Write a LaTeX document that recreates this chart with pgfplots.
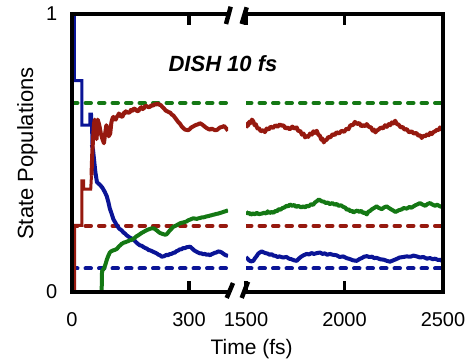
\documentclass[border=0pt]{standalone}
\usepackage{fontspec}
\setmainfont{Liberation Sans}
\usepackage{pgfplots}
\pgfplotsset{compat=1.18}
\definecolor{cblue}{RGB}{10,20,150}
\definecolor{cred}{RGB}{150,25,15}
\definecolor{cgreen}{RGB}{20,120,20}
\pgfplotsset{
  panel/.style={
    scale only axis, height=278pt, ymin=0, ymax=1,
    axis on top,
    axis line style={line width=4.8pt, line cap=rect},
    tick align=inside, major tick length=11pt,
    major tick style={line width=3.8pt, black},
    tick label style={font=\fontsize{20}{24}\selectfont, inner sep=0pt},
    /pgf/number format/assume math mode=true,
    xticklabel style={anchor=north, yshift=-20pt},
    yticklabel style={anchor=east, xshift=-14.5pt},
  },
  pop/.style={line width=4pt, line join=round},
  step/.style={line width=3pt, line join=miter},
  refl/.style={line width=4pt, dash pattern=on 5.5pt off 8pt, line cap=round},
}
\begin{document}
\begin{tikzpicture}
\path[use as bounding box] (0,0) rectangle (472pt,364pt);
% ---------------- left panel ----------------
\begin{axis}[panel, at={(72pt,72pt)}, anchor=south west, width=156pt,
  xmin=0, xmax=400, axis x line*=box, axis y line*=left,
  xtick={0,300}, xticklabels={0,300}, ytick={0,1}, yticklabels={0,1}]
\addplot[cgreen, refl] coordinates {(0,0.68) (400,0.68)};
\addplot[cred, refl] coordinates {(0,0.238) (400,0.238)};
\addplot[cblue, refl] coordinates {(0,0.085) (400,0.085)};
\addplot[cblue, step] coordinates {
(0,1.0) (6,1.0) (6,0.76) (25,0.76) (25,0.60) (46,0.60) (46,0.64) (50,0.64) (51,0.53)};
\addplot[cblue, pop] coordinates {
(51,0.53) (54,0.51) (57,0.47) (60,0.43) (64,0.395) (68,0.39) (72,0.385) (78,0.375) (84,0.36)
(89,0.345) (93,0.325) (97,0.30) (102,0.28) (106,0.262) (111,0.25) (115,0.24) (121,0.228)
(127,0.222) (132,0.214) (136,0.21) (140,0.204) (144,0.2) (148,0.196) (152,0.193) (157,0.19)
(161,0.184) (165,0.178) (170,0.172) (174,0.168) (179,0.166) (183,0.162) (188,0.158)
(192,0.156) (196,0.151) (200,0.15) (205,0.147) (209,0.144) (214,0.141) (218,0.138)
(222,0.134) (226,0.132) (230,0.127) (234,0.128) (238,0.13) (242,0.134) (246,0.132)
(250,0.136) (255,0.137) (260,0.141) (264,0.142) (268,0.147) (272,0.149) (276,0.153)
(281,0.154) (285,0.158) (290,0.158) (294,0.161) (299,0.162) (303,0.163) (307,0.158)
(310,0.154) (314,0.149) (318,0.146) (323,0.142) (328,0.139) (332,0.139) (336,0.136)
(341,0.137) (345,0.134) (350,0.135) (354,0.132) (358,0.136) (362,0.138) (366,0.141)
(370,0.142) (375,0.146) (379,0.145) (383,0.143) (386,0.14) (390,0.136) (393,0.133)
(397,0.131) (400,0.13)};
\addplot[cgreen, pop] coordinates {
(76,0) (77,0.075) (82,0.085) (86,0.10) (89,0.115) (93,0.13) (97,0.142) (100,0.146) (103,0.148)
(106,0.15) (109,0.151) (112,0.153) (115,0.155) (118,0.16) (121,0.165) (124,0.168) (127,0.173)
(130,0.175) (133,0.178) (137,0.179) (140,0.181) (144,0.183) (148,0.186) (152,0.187)
(157,0.191) (161,0.195) (165,0.2) (170,0.204) (174,0.208) (178,0.212) (182,0.215)
(187,0.219) (191,0.222) (196,0.225) (200,0.227) (204,0.229) (209,0.229) (213,0.226)
(217,0.222) (222,0.216) (226,0.212) (230,0.21) (234,0.208) (239,0.206) (243,0.208)
(247,0.215) (251,0.222) (256,0.229) (260,0.235) (264,0.237) (268,0.24) (273,0.244)
(277,0.247) (281,0.249) (285,0.25) (290,0.252) (294,0.254) (298,0.258) (302,0.26)
(307,0.263) (311,0.265) (316,0.264) (320,0.263) (324,0.265) (328,0.266) (332,0.268)
(336,0.268) (341,0.27) (345,0.272) (350,0.273) (354,0.275) (358,0.276) (362,0.278)
(366,0.279) (370,0.281) (375,0.282) (379,0.284) (384,0.286) (390,0.289) (395,0.291)
(400,0.294)};
\addplot[cred, step] coordinates {
(0,0) (7,0) (7,0.24) (25,0.24) (25,0.40) (30,0.40) (30,0.37) (48,0.37) (50,0.42)};
\addplot[cred, pop] coordinates {
(50,0.42) (52,0.50) (54,0.55) (56,0.60) (58,0.62) (61,0.58) (63,0.55) (66,0.62) (70,0.60)
(74,0.57) (78,0.55) (82,0.535) (85,0.57) (88,0.60) (91,0.59) (94,0.56) (98,0.57)
(101,0.61) (104,0.625) (106,0.63) (109,0.622) (112,0.62) (115,0.63) (118,0.635)
(120,0.642) (123,0.638) (126,0.63) (130,0.632) (133,0.645) (135,0.642) (138,0.65)
(140,0.648) (144,0.645) (148,0.646) (151,0.655) (155,0.652) (158,0.66) (162,0.658)
(166,0.652) (170,0.65) (174,0.66) (178,0.665) (181,0.658) (185,0.662) (188,0.67)
(192,0.668) (196,0.665) (200,0.666) (204,0.672) (208,0.67) (212,0.676) (215,0.674)
(219,0.678) (222,0.675) (225,0.673) (228,0.672) (232,0.665) (236,0.66) (240,0.653)
(244,0.65) (248,0.647) (252,0.645) (256,0.638) (260,0.635) (264,0.627) (268,0.62)
(272,0.612) (277,0.605) (281,0.596) (285,0.59) (290,0.584) (294,0.583) (298,0.582)
(302,0.586) (306,0.592) (310,0.595) (314,0.598) (318,0.601) (323,0.603) (328,0.607)
(332,0.604) (336,0.6) (341,0.594) (345,0.59) (350,0.586) (354,0.584) (358,0.588)
(362,0.585) (367,0.582) (372,0.583) (376,0.588) (380,0.592) (385,0.594) (390,0.597)
(393,0.592) (396,0.588) (400,0.58)};
\end{axis}
% ---------------- right panel ----------------
\begin{axis}[panel, at={(246pt,72pt)}, anchor=south west, width=197pt,
  xmin=1500, xmax=2500, axis x line*=box, axis y line*=right,
  xtick={1500,2000,2500}, xticklabels={1500,2000,2500}, ytick=\empty]
\addplot[cgreen, refl] coordinates {(1500,0.68) (2500,0.68)};
\addplot[cred, refl] coordinates {(1500,0.238) (2500,0.238)};
\addplot[cblue, refl] coordinates {(1500,0.085) (2500,0.085)};
\addplot[cblue, pop] coordinates {
(1500,0.125) (1508,0.12) (1515,0.114) (1525,0.11) (1537,0.112) (1546,0.122) (1555,0.13)
(1562,0.138) (1570,0.142) (1580,0.146) (1588,0.143) (1598,0.14) (1610,0.138) (1620,0.134)
(1630,0.136) (1639,0.131) (1650,0.13) (1660,0.126) (1670,0.128) (1688,0.124) (1706,0.126)
(1718,0.12) (1730,0.118) (1744,0.114) (1757,0.112) (1768,0.12) (1780,0.127) (1792,0.132)
(1808,0.137) (1820,0.135) (1832,0.14) (1845,0.137) (1860,0.14) (1876,0.142) (1888,0.137)
(1900,0.139) (1913,0.134) (1926,0.137) (1940,0.134) (1960,0.132) (1975,0.126) (1994,0.128)
(2010,0.122) (2025,0.119) (2043,0.114) (2062,0.112) (2075,0.118) (2090,0.123) (2100,0.127)
(2113,0.129) (2125,0.126) (2140,0.127) (2150,0.122) (2163,0.123) (2180,0.118) (2200,0.116)
(2215,0.112) (2231,0.109) (2248,0.114) (2265,0.119) (2280,0.124) (2299,0.126) (2315,0.128)
(2335,0.127) (2350,0.131) (2367,0.128) (2383,0.124) (2400,0.126) (2418,0.12) (2434,0.122)
(2448,0.118) (2460,0.12) (2475,0.115) (2485,0.116) (2500,0.11)};
\addplot[cgreen, pop] coordinates {
(1500,0.289) (1508,0.282) (1516,0.285) (1525,0.278) (1535,0.283) (1545,0.279) (1554,0.285)
(1565,0.28) (1580,0.282) (1592,0.285) (1602,0.282) (1610,0.29) (1620,0.284) (1630,0.288)
(1639,0.285) (1650,0.292) (1658,0.29) (1665,0.298) (1675,0.296) (1685,0.302) (1695,0.304)
(1705,0.31) (1715,0.308) (1723,0.315) (1735,0.31) (1745,0.313) (1755,0.306) (1765,0.31)
(1780,0.304) (1790,0.308) (1800,0.304) (1808,0.31) (1818,0.308) (1830,0.316) (1840,0.313)
(1850,0.322) (1862,0.328) (1870,0.333) (1876,0.33) (1885,0.326) (1895,0.325) (1905,0.32)
(1915,0.322) (1926,0.316) (1938,0.32) (1950,0.314) (1960,0.317) (1970,0.31) (1982,0.312)
(1994,0.306) (2005,0.303) (2012,0.295) (2020,0.298) (2030,0.29) (2038,0.293) (2045,0.286)
(2055,0.29) (2065,0.293) (2075,0.288) (2085,0.292) (2095,0.284) (2103,0.286) (2113,0.279)
(2120,0.288) (2130,0.292) (2140,0.298) (2150,0.302) (2163,0.308) (2175,0.302) (2190,0.298)
(2200,0.304) (2214,0.308) (2226,0.302) (2240,0.296) (2250,0.292) (2258,0.288) (2265,0.29)
(2275,0.294) (2290,0.297) (2300,0.302) (2316,0.3) (2330,0.306) (2340,0.303) (2350,0.308)
(2360,0.312) (2372,0.316) (2383,0.32) (2395,0.315) (2410,0.31) (2420,0.316) (2434,0.32)
(2445,0.315) (2460,0.31) (2470,0.314) (2485,0.308) (2500,0.305)};
\addplot[cred, pop] coordinates {
(1500,0.59) (1505,0.605) (1510,0.598) (1516,0.612) (1522,0.607) (1530,0.62) (1537,0.614)
(1544,0.60) (1550,0.603) (1558,0.588) (1565,0.59) (1575,0.578) (1588,0.582) (1596,0.575)
(1605,0.588) (1615,0.584) (1625,0.595) (1637,0.59) (1650,0.6) (1660,0.594) (1672,0.603)
(1681,0.598) (1690,0.6) (1700,0.588) (1710,0.592) (1722,0.585) (1735,0.595) (1745,0.588)
(1757,0.592) (1766,0.578) (1775,0.58) (1784,0.566) (1792,0.57) (1800,0.556) (1808,0.562)
(1816,0.558) (1825,0.57) (1834,0.566) (1842,0.578) (1850,0.572) (1859,0.58) (1867,0.566)
(1875,0.562) (1882,0.548) (1888,0.552) (1895,0.538) (1901,0.545) (1910,0.548) (1918,0.558)
(1928,0.556) (1940,0.568) (1950,0.564) (1960,0.575) (1972,0.57) (1985,0.58) (1998,0.576)
(2011,0.588) (2020,0.585) (2030,0.6) (2042,0.6) (2053,0.612) (2063,0.604) (2075,0.608)
(2085,0.596) (2095,0.6) (2104,0.596) (2113,0.604) (2124,0.594) (2135,0.592) (2143,0.58)
(2150,0.584) (2157,0.574) (2163,0.58) (2174,0.585) (2185,0.592) (2196,0.588) (2206,0.6)
(2215,0.594) (2225,0.604) (2232,0.6) (2240,0.61) (2248,0.606) (2257,0.616) (2266,0.604)
(2275,0.602) (2285,0.592) (2295,0.594) (2305,0.584) (2316,0.586) (2328,0.574) (2340,0.578)
(2352,0.57) (2365,0.572) (2375,0.562) (2385,0.564) (2392,0.554) (2400,0.562) (2410,0.56)
(2420,0.568) (2428,0.564) (2435,0.573) (2443,0.568) (2451,0.575) (2460,0.578) (2470,0.584)
(2478,0.582) (2485,0.592) (2492,0.586) (2500,0.592)};
\end{axis}
% axis break marks
\draw[line width=4.5pt] (226pt,340pt) -- (230.7pt,357.3pt);
\draw[line width=4.5pt] (241.7pt,340pt) -- (246.7pt,356.7pt);
\draw[line width=4.5pt] (226.7pt,66pt) -- (233pt,81pt);
\draw[line width=4.5pt] (241.7pt,66pt) -- (248pt,82.3pt);
% labels
\node[anchor=base, font=\fontsize{22}{26}\selectfont\bfseries\itshape] at (223pt,292.3pt) {DISH 10 fs};
\node[anchor=base, rotate=90, font=\fontsize{22}{26}\selectfont] at (33pt,210.5pt) {State Populations};
\node[anchor=base, font=\fontsize{21}{25}\selectfont] at (251.7pt,9pt) {Time (fs)};
\end{tikzpicture}
\end{document}
